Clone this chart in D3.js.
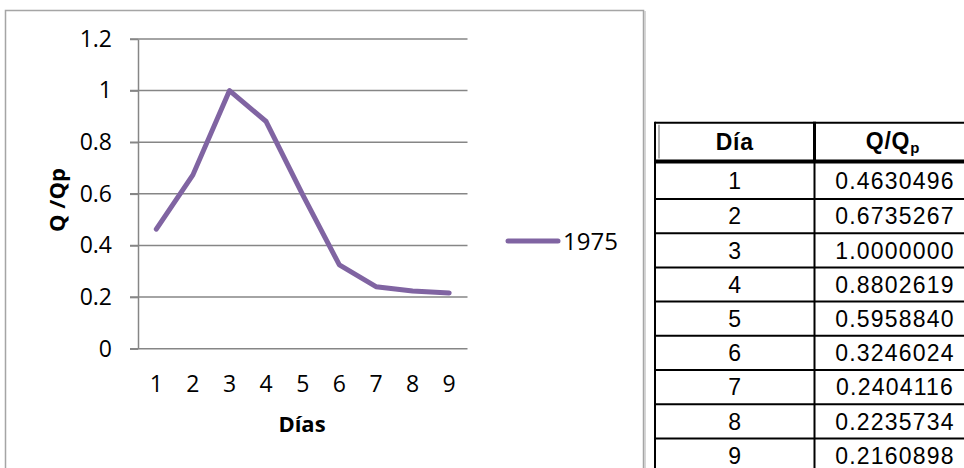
<!DOCTYPE html>
<html>
<head>
<meta charset="utf-8">
<script src="https://cdn.jsdelivr.net/npm/d3@7"></script>
<style>
  body { margin: 0; background: #fff; }
  svg { display: block; }
</style>
</head>
<body>
<div id="chart"></div>
<script>
var width = 964;
var height = 468;

// data
var dias = [1, 2, 3, 4, 5, 6, 7, 8, 9];
var qqp = [0.4630496, 0.6735267, 1.0000000, 0.8802619, 0.5958840, 0.3246024, 0.2404116, 0.2235734, 0.2160898];
var yTicks = [0, 0.2, 0.4, 0.6, 0.8, 1, 1.2];
var seriesName = "1975";
var tableHeader = ["Día", "Q/Q"];

var purple = "#8064a2";
var gridColor = "#868686";
var chartFont = "'Open Sans', sans-serif";
var tableFont = "'Liberation Sans', Arial, sans-serif";

var svg = d3.select("#chart")
    .append("svg")
    .attr("width", width)
    .attr("height", height);

// chart frame
svg.append("rect")
    .attr("x", 5.5).attr("y", 10.5)
    .attr("width", 638).attr("height", 470)
    .attr("fill", "#fff")
    .attr("stroke", "#a5a5a5")
    .attr("stroke-width", 1.5);
svg.append("line")
    .attr("x1", 645).attr("x2", 645).attr("y1", 11).attr("y2", 468)
    .attr("stroke", "#c8c8c8").attr("stroke-width", 1.5);

// scales
var xScale = d3.scaleBand().domain(dias).range([138, 467.5]);
var yScale = d3.scaleLinear().domain([0, 1.2]).range([348.7, 39]);

// gridlines
svg.append("g")
    .selectAll("line")
    .data(yTicks)
    .enter()
    .append("line")
    .attr("x1", 130)
    .attr("x2", 467.5)
    .attr("y1", function(d) { return yScale(d); })
    .attr("y2", function(d) { return yScale(d); })
    .attr("stroke", gridColor)
    .attr("stroke-width", 1.5);

// y axis
var yAxis = d3.axisLeft(yScale)
    .tickValues(yTicks)
    .tickSize(8)
    .tickSizeOuter(0)
    .tickPadding(18)
    .tickFormat(function(d) { return d3.format("")(+d.toFixed(1)); });

var gy = svg.append("g")
    .attr("transform", "translate(138,0)")
    .call(yAxis);
gy.select(".domain").attr("stroke", gridColor).attr("stroke-width", 1.5);
gy.selectAll(".tick line").attr("stroke", gridColor).attr("stroke-width", 1.5);
gy.selectAll("text")
    .attr("fill", "#000")
    .style("font-family", chartFont)
    .style("font-size", "23px");

// x axis (labels only)
var xAxis = d3.axisBottom(xScale).tickSize(0).tickPadding(26.5);
var gx = svg.append("g")
    .attr("transform", "translate(0," + yScale(0) + ")")
    .call(xAxis);
gx.select(".domain").remove();
gx.selectAll("text")
    .attr("fill", "#000")
    .style("font-family", chartFont)
    .style("font-size", "23px");

// axis titles
svg.append("text")
    .attr("x", 302)
    .attr("y", 424)
    .attr("dy", "0.35em")
    .attr("text-anchor", "middle")
    .style("font-family", chartFont)
    .style("font-weight", "bold")
    .style("font-size", "22px")
    .text("Días");

svg.append("text")
    .attr("transform", "translate(57,200) rotate(-90)")
    .attr("dy", "0.35em")
    .attr("text-anchor", "middle")
    .style("font-family", chartFont)
    .style("font-weight", "bold")
    .style("font-size", "22px")
    .text("Q /Qp");

// series line
var line = d3.line()
    .x(function(d, i) { return xScale(dias[i]) + xScale.bandwidth() / 2; })
    .y(function(d) { return yScale(d); });

svg.append("path")
    .datum(qqp)
    .attr("d", line)
    .attr("fill", "none")
    .attr("stroke", purple)
    .attr("stroke-width", 5)
    .attr("stroke-linejoin", "round")
    .attr("stroke-linecap", "round");

// legend
svg.append("line")
    .attr("x1", 508).attr("x2", 558)
    .attr("y1", 241).attr("y2", 241)
    .attr("stroke", purple)
    .attr("stroke-width", 5)
    .attr("stroke-linecap", "round");
svg.append("text")
    .attr("x", 563)
    .attr("y", 242)
    .attr("dy", "0.35em")
    .style("font-family", chartFont)
    .style("font-size", "24px")
    .text(seriesName);

// table
var tbl = svg.append("g");
var tLeft = 655, tMid = 814.5, tRight = 966;
var rowTop = [122.7, 161.5, 199];
for (var i = 2; i <= dias.length; i++) rowTop.push(199 + (i - 1) * 34.2);

tbl.append("rect")
    .attr("x", tLeft).attr("y", rowTop[0])
    .attr("width", tRight - tLeft).attr("height", height - rowTop[0] + 10)
    .attr("fill", "#fff");

// horizontal rules
tbl.selectAll("line.h")
    .data(rowTop)
    .enter()
    .append("line")
    .attr("class", "h")
    .attr("x1", tLeft).attr("x2", tRight)
    .attr("y1", function(d) { return d; })
    .attr("y2", function(d) { return d; })
    .attr("stroke", "#000")
    .attr("stroke-width", function(d, i) { return i === 1 ? 4 : 2; });

// vertical rules
tbl.append("line")
    .attr("x1", tLeft).attr("x2", tLeft)
    .attr("y1", rowTop[0] - 1).attr("y2", height)
    .attr("stroke", "#000").attr("stroke-width", 2);
tbl.append("line")
    .attr("x1", tMid).attr("x2", tMid)
    .attr("y1", rowTop[0] - 1).attr("y2", rowTop[1])
    .attr("stroke", "#000").attr("stroke-width", 3);
tbl.append("line")
    .attr("x1", tMid).attr("x2", tMid)
    .attr("y1", rowTop[1]).attr("y2", height)
    .attr("stroke", "#000").attr("stroke-width", 2);
tbl.append("line")
    .attr("x1", 659).attr("x2", 659)
    .attr("y1", rowTop[0] + 2).attr("y2", rowTop[1] - 3)
    .attr("stroke", "#b0b0b0").attr("stroke-width", 2);

var col1 = (tLeft + tMid) / 2;
var col2 = 895;

// header
tbl.append("text")
    .attr("x", col1)
    .attr("y", (rowTop[0] + rowTop[1]) / 2)
    .attr("dy", "0.36em")
    .attr("text-anchor", "middle")
    .style("font-family", tableFont)
    .style("font-weight", "bold")
    .style("font-size", "23px")
    .style("letter-spacing", "0.8px")
    .text(tableHeader[0]);

var hdr = tbl.append("text")
    .attr("x", col2 - 2)
    .attr("y", (rowTop[0] + rowTop[1]) / 2)
    .attr("dy", "0.28em")
    .attr("text-anchor", "middle")
    .style("font-family", tableFont)
    .style("font-weight", "bold")
    .style("font-size", "23px")
    .style("letter-spacing", "0.8px");
hdr.append("tspan").text(tableHeader[1]);
hdr.append("tspan")
    .attr("dy", "0.3em")
    .style("font-size", "15px")
    .text("p");

// rows
var rows = tbl.selectAll("g.row")
    .data(dias)
    .enter()
    .append("g")
    .attr("class", "row");

function rowMid(i) {
    return (rowTop[i + 1] + (rowTop[i + 2] || rowTop[i + 1] + 34.2)) / 2;
}

rows.append("text")
    .attr("x", col1)
    .attr("y", function(d, i) { return rowMid(i); })
    .attr("dy", "0.36em")
    .attr("text-anchor", "middle")
    .style("font-family", tableFont)
    .style("font-size", "23px")
    .text(function(d) { return d; });

rows.append("text")
    .attr("x", col2)
    .attr("y", function(d, i) { return rowMid(i); })
    .attr("dy", "0.36em")
    .attr("text-anchor", "middle")
    .style("font-family", tableFont)
    .style("font-size", "23px")
    .style("letter-spacing", "1.2px")
    .text(function(d, i) { return qqp[i].toFixed(7); });
</script>
</body>
</html>
